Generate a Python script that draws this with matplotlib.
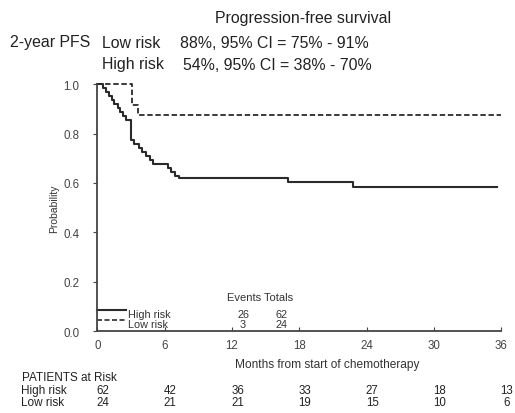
import matplotlib
matplotlib.use("Agg")
import matplotlib.pyplot as plt

plt.rcParams['font.family'] = ['Liberation Sans', 'DejaVu Sans']

# Kaplan-Meier step data (time in months, survival probability after step)
high_times = [0, 0.5, 0.8, 1.0, 1.3, 1.5, 1.8, 2.0, 2.3, 2.6, 3.0, 3.3, 3.7, 4.0, 4.3,
              4.7, 5.0, 6.3, 6.6, 6.9, 7.3, 17.0, 22.8, 35.6]
high_surv = [1.0, 0.984, 0.968, 0.952, 0.935, 0.919, 0.903, 0.887, 0.871, 0.855, 0.774,
             0.758, 0.742, 0.726, 0.710, 0.694, 0.677, 0.661, 0.645, 0.629, 0.622,
             0.606, 0.584, 0.584]
low_times = [0, 3.05, 3.6, 36]
low_surv = [1.0, 0.917, 0.875, 0.875]

xticks = [0, 6, 12, 18, 24, 30, 36]
yticks = [0.0, 0.2, 0.4, 0.6, 0.8, 1.0]
at_risk_high = [62, 42, 36, 33, 27, 18, 13]
at_risk_low = [24, 21, 21, 19, 15, 10, 6]
events = {"High risk": (26, 62), "Low risk": (3, 24)}

fig = plt.figure(figsize=(5.15, 4.14), dpi=100)
ax = fig.add_axes([0.189, 0.198, 0.784, 0.596])

col = '#2a2a2a'
txtc = '#333333'
ax.step(high_times, high_surv, where='post', color=col, lw=1.5, clip_on=False)
ax.step(low_times, low_surv, where='post', color=col, lw=1.3, ls=(0, (3, 1.5)), clip_on=False)

ax.set_xlim(0, 36)
ax.set_ylim(0, 1.0)
ax.spines['top'].set_visible(False)
ax.spines['right'].set_visible(False)
for s in ['left', 'bottom']:
    ax.spines[s].set_color('#444444')
    ax.spines[s].set_linewidth(1.3)
ax.set_xticks(xticks)
ax.set_xticklabels([str(t) for t in xticks])
ax.set_yticks(yticks)
ax.set_yticklabels([f"{v:.1f}" for v in yticks])
ax.tick_params(axis='x', direction='in', length=3, labelsize=8.3, colors='#444444', pad=6)
ax.tick_params(axis='y', direction='out', length=3, labelsize=8.3, colors='#444444', pad=10)
ax.set_xlabel("Months from start of chemotherapy", fontsize=8.6, color=txtc)
ax.xaxis.set_label_coords(0.57, -0.11)
ax.set_ylabel("Probability", fontsize=7.5, color=txtc)
ax.yaxis.set_label_coords(-0.094, 0.5)

# Legend / events table inside the axes
ax.plot([0, 2.6], [0.085, 0.085], color=col, lw=1.5, clip_on=False)
ax.plot([0, 2.6], [0.045, 0.045], color=col, lw=1.2, ls=(0, (3, 1.5)), clip_on=False)
ax.text(2.7, 0.068, "High risk", fontsize=7.8, va='center', color=txtc)
ax.text(2.7, 0.027, "Low risk", fontsize=7.8, va='center', color=txtc)
ax.text(11.6, 0.137, "Events Totals", fontsize=8, va='center', color=txtc)
for yy, key in [(0.068, "High risk"), (0.027, "Low risk")]:
    e, t = events[key]
    ax.text(13.0, yy, str(e), fontsize=7.8, va='center', ha='center', color=txtc)
    ax.text(16.4, yy, str(t), fontsize=7.8, va='center', ha='center', color=txtc)

# Header text
hc = '#222222'
hs = 11.4
fig.text(303 / 515, 1 - 18 / 414, "Progression-free survival", fontsize=hs, ha='center', va='center', color=hc)
fig.text(10 / 515, 1 - 43 / 414, "2-year PFS", fontsize=hs, va='center', color=hc)
fig.text(102 / 515, 1 - 43 / 414, "Low risk", fontsize=hs, va='center', color=hc)
fig.text(180 / 515, 1 - 43 / 414, "88%, 95% CI = 75% - 91%", fontsize=hs, va='center', color=hc)
fig.text(102 / 515, 1 - 65 / 414, "High risk", fontsize=hs, va='center', color=hc)
fig.text(183 / 515, 1 - 65 / 414, "54%, 95% CI = 38% - 70%", fontsize=hs, va='center', color=hc)

# Patients at risk table
fig.text(22 / 515, 1 - 378 / 414, "PATIENTS at Risk", fontsize=8.5, va='center', color=hc)
fig.text(21 / 515, 1 - 391 / 414, "High risk", fontsize=8.5, va='center', color=hc)
fig.text(21 / 515, 1 - 403 / 414, "Low risk", fontsize=8.5, va='center', color=hc)
trans = ax.get_xaxis_transform()
for t, h, l in zip(xticks, at_risk_high, at_risk_low):
    ax.text(t + 0.5, -(391 - 332) / 247, str(h), transform=trans, fontsize=8.3, ha='center',
            va='center', color=hc, clip_on=False)
    ax.text(t + 0.5, -(403 - 332) / 247, str(l), transform=trans, fontsize=8.3, ha='center',
            va='center', color=hc, clip_on=False)

fig.savefig("out.png", dpi=100, facecolor='white')
